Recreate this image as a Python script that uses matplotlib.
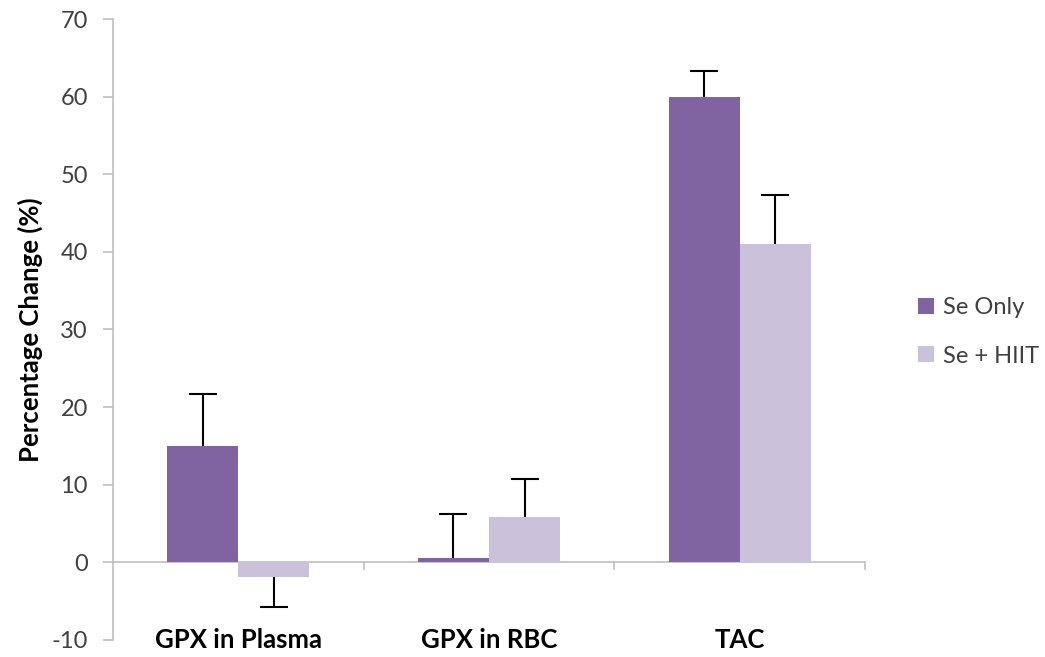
import matplotlib
matplotlib.use("Agg")
import matplotlib.pyplot as plt
import numpy as np

categories = ["GPX in Plasma", "GPX in RBC", "TAC"]
series_names = ["Se Only", "Se + HIIT"]
se_only = [15.0, 0.6, 60.0]
se_hiit = [-1.9, 5.9, 41.0]
se_only_err = [6.7, 5.6, 3.3]
se_hiit_err = [3.9, 4.8, 6.3]
yticks = [-10, 0, 10, 20, 30, 40, 50, 60, 70]

colors = ["#8064A2", "#CCC1DA"]
plt.rcParams['font.family'] = ['Lato', 'DejaVu Sans']

fig = plt.figure(figsize=(10.45, 6.57), dpi=100)
ax = fig.add_axes([0.108, 0.026, 0.72, 0.945])

x = np.arange(len(categories))
w = 0.284
for i, (vals, errs, name, c) in enumerate(zip([se_only, se_hiit], [se_only_err, se_hiit_err], series_names, colors)):
    pos = x + (i - 0.5) * w
    vals = np.array(vals)
    errs = np.array(errs)
    ax.bar(pos, vals, width=w, color=c, label=name, zorder=2)
    lower = np.where(vals < 0, errs, 0)
    upper = np.where(vals >= 0, errs, 0)
    ax.errorbar(pos, vals, yerr=[lower, upper], fmt='none', ecolor='black',
                elinewidth=1.5, capsize=0, zorder=3)
    ends = np.where(vals < 0, vals - errs, vals + errs)
    ax.plot(pos, ends, linestyle='none', marker='_', markersize=20,
            markeredgewidth=1.5, color='black', zorder=3)

ax.set_xlim(-0.5, len(categories) - 0.5)
ax.set_ylim(-10, 70)
ax.set_yticks(yticks)
ax.set_yticklabels([str(t) for t in yticks], fontsize=17, color='#404040')
ax.tick_params(axis='y', length=7, color='#BFBFBF', width=1.2, pad=11)

for s in ['top', 'right', 'bottom']:
    ax.spines[s].set_visible(False)
ax.spines['left'].set_color('#BFBFBF')
ax.spines['left'].set_linewidth(1.2)

# x axis line at zero with category boundary ticks
ax.axhline(0, color='#BFBFBF', linewidth=1.2, zorder=1)
ax.set_xticks([])
for b in np.arange(0.5, len(categories), 1.0):
    ax.plot([b, b], [0, -0.9], color='#BFBFBF', linewidth=1.2, clip_on=False, zorder=1)

for xi, cat in zip(x, categories):
    ax.text(xi, -10, cat, ha='center', va='center', fontsize=18.5, fontweight='bold', color='black')

ax.set_ylabel("Percentage Change (%)", fontsize=18.5, fontweight='bold', labelpad=6)

leg = ax.legend(loc='center left', bbox_to_anchor=(1.058, 0.496), frameon=False,
                fontsize=17, handlelength=0.68, handleheight=0.68, labelspacing=1.15,
                handletextpad=0.35, borderaxespad=0)
for t in leg.get_texts():
    t.set_color('#404040')

fig.savefig("out.png", dpi=100)
